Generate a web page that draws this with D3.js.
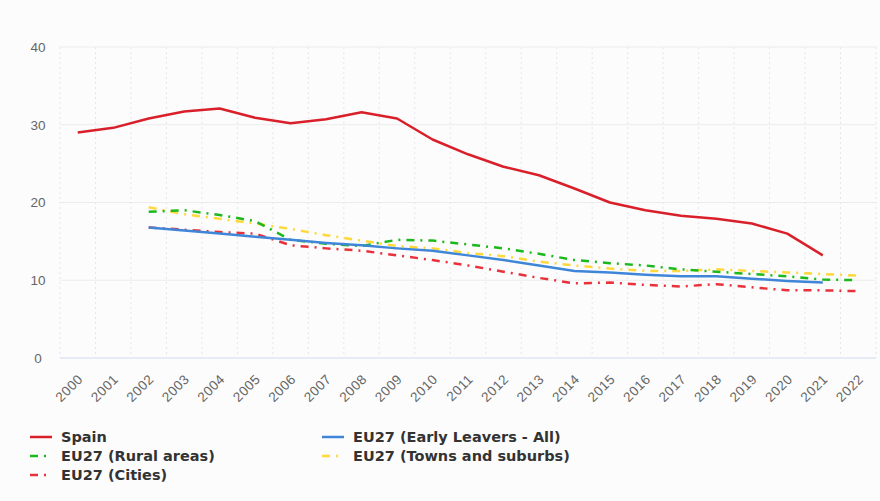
<!DOCTYPE html>
<html>
<head>
<meta charset="utf-8">
<script src="https://cdn.jsdelivr.net/npm/d3@7"></script>
<style>
  html, body { margin: 0; padding: 0; background: #fcfcfc; }
  svg { display: block; font-family: "DejaVu Sans", Verdana, sans-serif; }
</style>
</head>
<body>
<div id="chart"></div>
<script>
(function() {
    'use strict';

    var years = ['2000', '2001', '2002', '2003', '2004', '2005', '2006', '2007', '2008', '2009', '2010',
        '2011', '2012', '2013', '2014', '2015', '2016', '2017', '2018', '2019', '2020', '2021', '2022'];

    // null = no value for that year
    var spain = [29.0, 29.6, 30.8, 31.7, 32.1, 30.9, 30.2, 30.7, 31.6, 30.8, 28.1,
        26.2, 24.6, 23.5, 21.8, 20.0, 19.0, 18.3, 17.9, 17.3, 16.0, 13.2, null];
    var eu27All = [null, null, 16.8, 16.4, 16.0, 15.6, 15.2, 14.8, 14.5, 14.1, 13.8,
        13.2, 12.6, 11.9, 11.2, 11.0, 10.7, 10.5, 10.5, 10.2, 9.9, 9.7, null];
    var eu27Rural = [null, null, 18.8, 19.0, 18.4, 17.6, 15.2, 14.7, 14.4, 15.2, 15.1,
        14.6, 14.1, 13.4, 12.6, 12.2, 11.9, 11.4, 11.1, 10.8, 10.5, 10.1, 10.0];
    var eu27Towns = [null, null, 19.4, 18.5, 17.9, 17.3, 16.6, 15.8, 15.1, 14.4, 14.1,
        13.5, 13.1, 12.4, 11.9, 11.5, 11.2, 11.2, 11.4, 11.2, 11.0, 10.8, 10.6];
    var eu27Cities = [null, null, 16.8, 16.5, 16.2, 16.0, 14.5, 14.1, 13.8, 13.2, 12.6,
        11.9, 11.1, 10.3, 9.6, 9.7, 9.4, 9.2, 9.5, 9.1, 8.7, 8.7, 8.6];

    var yTicks = [0, 10, 20, 30, 40];

    var series = [
        { name: 'Spain', values: spain, color: '#d9202a', dash: null },
        { name: 'EU27 (Early Leavers - All)', values: eu27All, color: '#3f86d8', dash: null },
        { name: 'EU27 (Rural areas)', values: eu27Rural, color: '#1cb81c', dash: '8,6,2,6' },
        { name: 'EU27 (Towns and suburbs)', values: eu27Towns, color: '#ffd83a', dash: '8,6,2,6' },
        { name: 'EU27 (Cities)', values: eu27Cities, color: '#e9313b', dash: '8,6,2,6' }
    ];
    // draw order (back to front)
    var drawOrder = [3, 2, 4, 1, 0];

    var width = 880, height = 501;
    var margin = { top: 47, right: 4, bottom: 143, left: 60 };
    var plotW = width - margin.left - margin.right;
    var plotH = height - margin.top - margin.bottom;

    var svg = d3.select('#chart').append('svg')
        .attr('width', width)
        .attr('height', height);

    var g = svg.append('g')
        .attr('transform', 'translate(' + margin.left + ',' + margin.top + ')');

    var x = d3.scaleBand().domain(years).range([0, plotW]);
    var y = d3.scaleLinear().domain([0, 40]).range([plotH, 0]);

    // Vertical dotted grid at band edges
    var edges = years.map(function(d) { return x(d); }).concat([plotW]);
    g.append('g').selectAll('line')
        .data(edges)
        .join('line')
        .attr('x1', function(d) { return d; })
        .attr('x2', function(d) { return d; })
        .attr('y1', 0)
        .attr('y2', plotH)
        .attr('stroke', '#e6e6e6')
        .attr('stroke-width', 1)
        .attr('stroke-dasharray', '2,3');

    // Horizontal grid
    g.append('g').selectAll('line')
        .data(yTicks.filter(function(d) { return d > 0; }))
        .join('line')
        .attr('x1', 0)
        .attr('x2', plotW)
        .attr('y1', function(d) { return y(d); })
        .attr('y2', function(d) { return y(d); })
        .attr('stroke', '#ececec')
        .attr('stroke-width', 1);

    // Baseline
    g.append('line')
        .attr('x1', 0).attr('x2', plotW)
        .attr('y1', y(0)).attr('y2', y(0))
        .attr('stroke', '#dfe7f5')
        .attr('stroke-width', 1.5);

    // Y axis labels
    var yAxis = d3.axisLeft(y).tickValues(yTicks).tickSize(0).tickPadding(22);
    g.append('g').call(yAxis)
        .call(function(sel) { sel.select('.domain').remove(); })
        .selectAll('text')
        .attr('fill', '#666')
        .attr('font-size', 13.5)
        .attr('text-anchor', 'middle')
        .attr('dx', 0);

    // X axis labels
    var xAxis = d3.axisBottom(x).tickSize(0).tickPadding(0);
    g.append('g')
        .attr('transform', 'translate(0,' + plotH + ')')
        .call(xAxis)
        .call(function(sel) { sel.select('.domain').remove(); })
        .selectAll('text')
        .attr('fill', '#666')
        .attr('font-size', 13.5)
        .attr('letter-spacing', 0.5)
        .attr('text-anchor', 'end')
        .attr('dy', 0)
        .attr('transform', 'translate(6,22) rotate(-45)');

    // Lines
    var line = d3.line()
        .defined(function(d) { return d.v != null; })
        .x(function(d) { return x(d.year) + x.bandwidth() / 2; })
        .y(function(d) { return y(d.v); });

    drawOrder.forEach(function(i) {
        var s = series[i];
        var pts = years.map(function(yr, j) { return { year: yr, v: s.values[j] }; });
        g.append('path')
            .datum(pts)
            .attr('fill', 'none')
            .attr('stroke', s.color)
            .attr('stroke-width', 2.5)
            .attr('stroke-linejoin', 'round')
            .attr('stroke-dasharray', s.dash)
            .attr('d', line);
    });

    // Legend
    var legendPos = [
        { col: 0, row: 0 }, { col: 1, row: 0 },
        { col: 0, row: 1 }, { col: 1, row: 1 },
        { col: 0, row: 2 }
    ];
    var legend = svg.append('g');
    series.forEach(function(s, i) {
        var p = legendPos[i];
        var lx = 30 + p.col * 292;
        var ly = 437 + p.row * 19;
        var item = legend.append('g').attr('transform', 'translate(' + lx + ',' + ly + ')');
        item.append('line')
            .attr('x1', 0).attr('x2', 22)
            .attr('y1', 0).attr('y2', 0)
            .attr('stroke', s.color)
            .attr('stroke-width', 2.5)
            .attr('stroke-dasharray', s.dash ? '8,6,2,6' : null);
        item.append('text')
            .attr('x', 31)
            .attr('y', 0)
            .attr('dy', '0.35em')
            .attr('fill', '#333')
            .attr('font-size', 14.5)
            .attr('font-weight', 'bold')
            .text(s.name);
    });
})();
</script>
</body>
</html>
